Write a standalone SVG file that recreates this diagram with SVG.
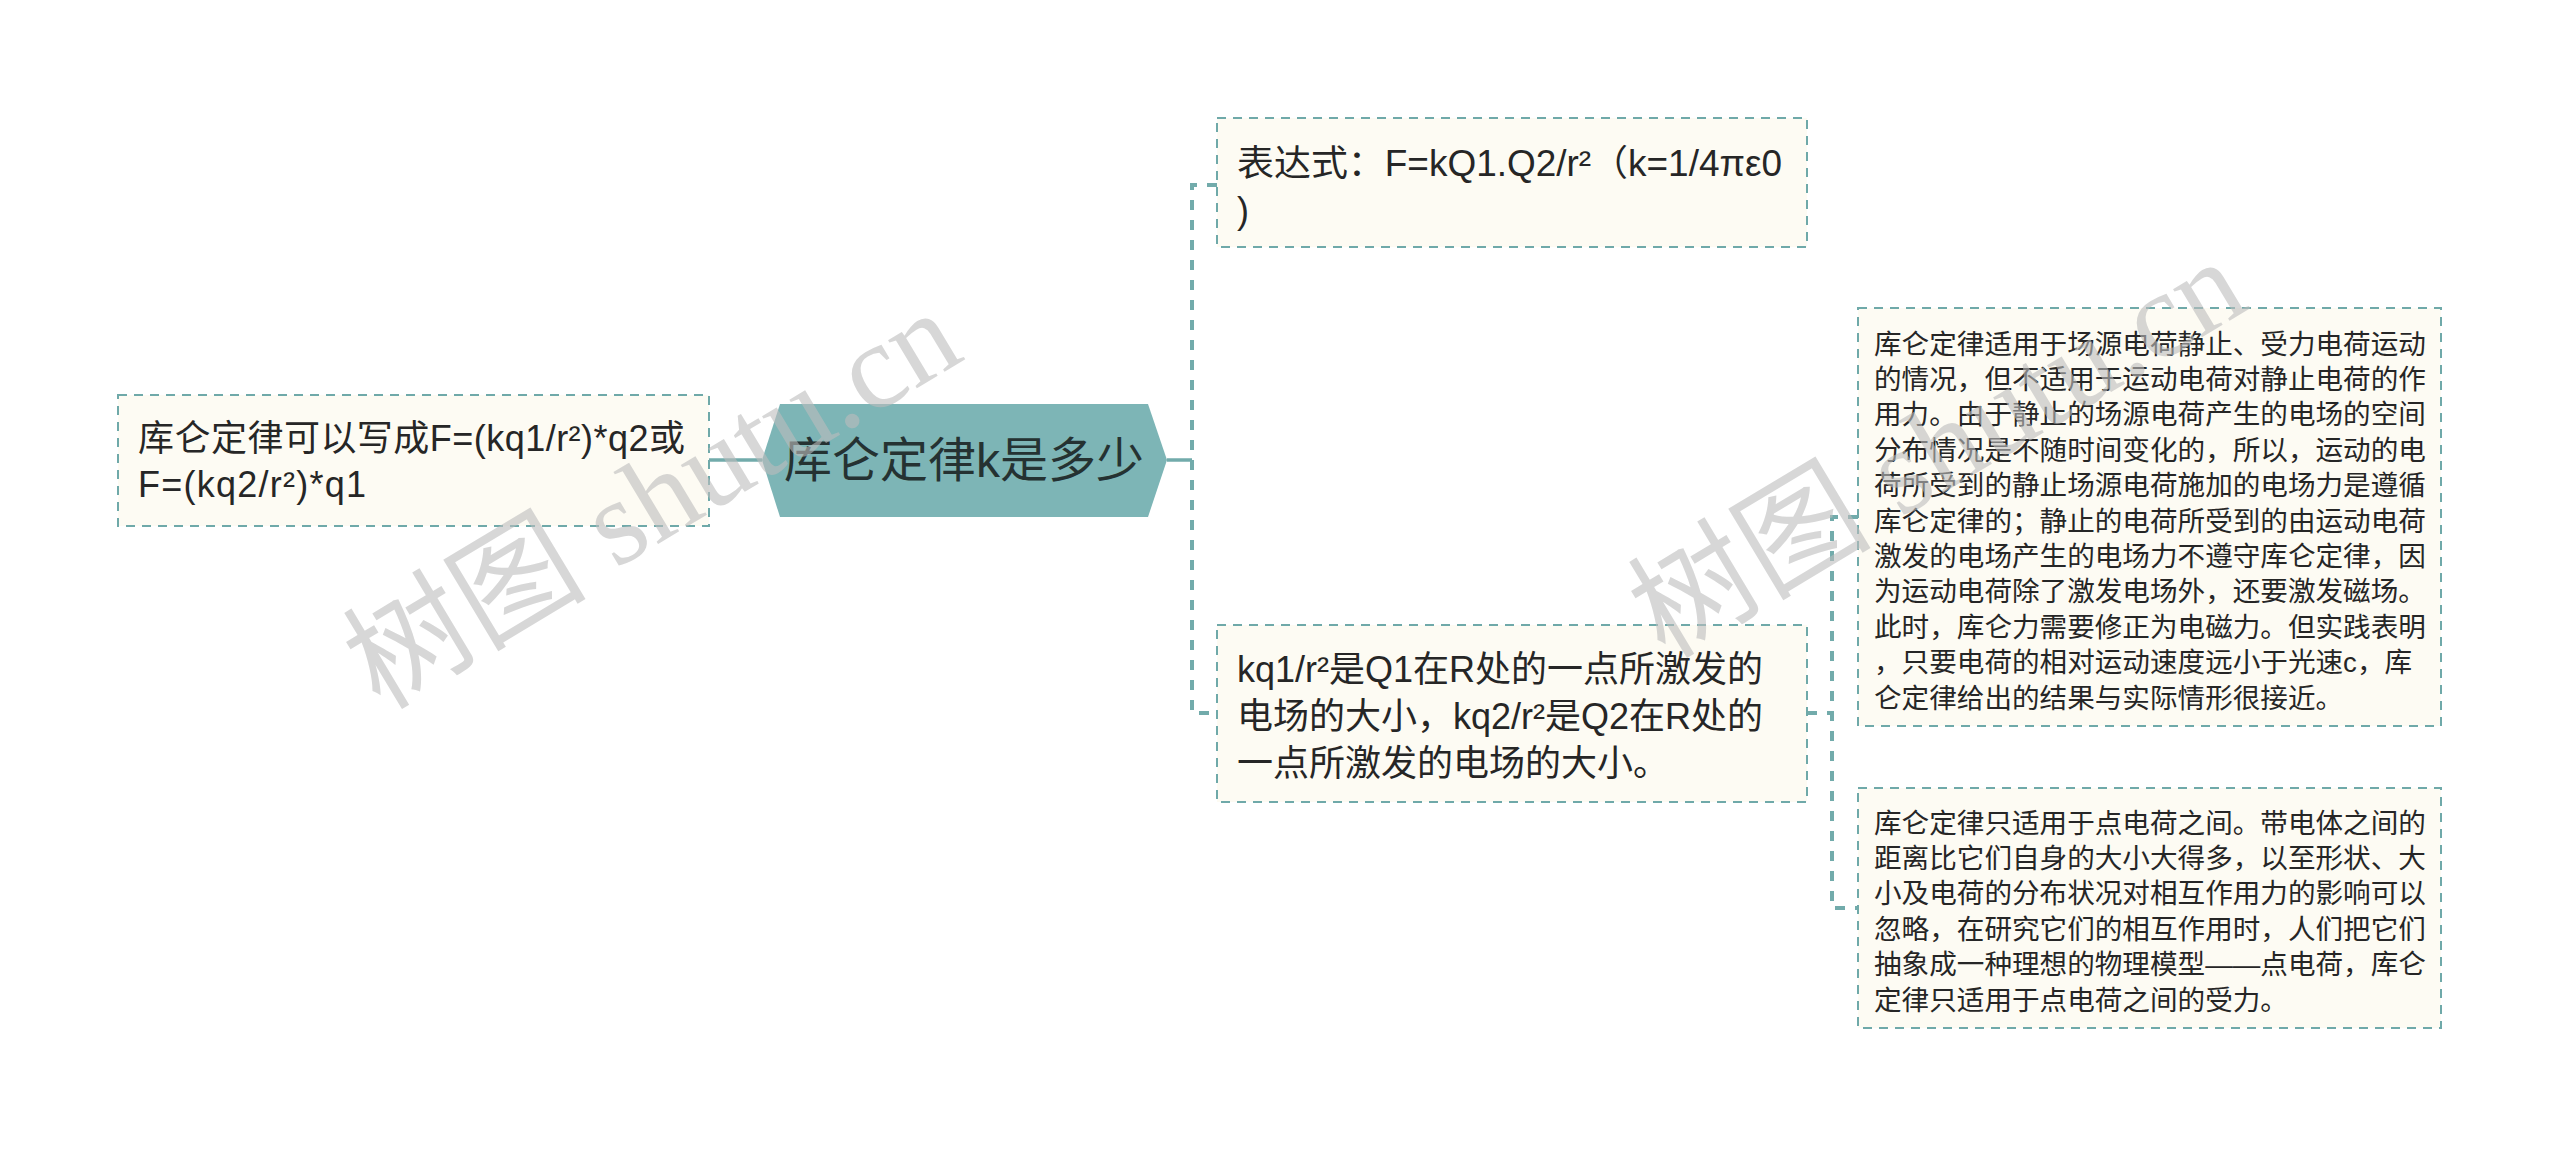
<svg xmlns="http://www.w3.org/2000/svg" width="2560" height="1149" viewBox="0 0 2560 1149">
<style>
.box{fill:#fdfbf3;stroke:#6fa9a9;stroke-width:2;stroke-dasharray:9 7}
.t{font-family:"Liberation Sans","Noto Sans CJK SC",sans-serif;font-size:36px;fill:#262626}
.s{font-family:"Liberation Sans","Noto Sans CJK SC",sans-serif;font-size:27.6px;fill:#262626}
.c{font-family:"Liberation Sans","Noto Sans CJK SC",sans-serif;font-size:48px;fill:#253232}
.solid{fill:none;stroke:#72abab;stroke-width:3.5}
.dash{fill:none;stroke:#72abab;stroke-width:4;stroke-dasharray:10 10}
.wm{font-family:"Liberation Serif","Noto Sans CJK SC",serif;font-size:122px;fill:#bdbdbd;opacity:0.6}
</style>
<rect width="2560" height="1149" fill="#ffffff"/>
<g id="connectors">
<path class="solid" d="M709,460 H762"/>
<path class="solid" d="M1167,460 H1192"/>
<path class="dash" d="M1217,185 H1192 V713 H1217"/>
<path class="dash" d="M1807,713 H1832"/>
<path class="dash" d="M1858,517 H1832 V908 H1858"/>
</g>
<g id="root">
<polygon points="762,460 780,404 1148,404 1167,460 1148,517 780,517" fill="#7db5b6"/>
<text class="c" x="964" y="477" text-anchor="middle">库仑定律k是多少</text>
</g>
<g id="left">
<rect class="box" x="118" y="395" width="591" height="131"/>
<text class="t" x="138" y="451" textLength="547" lengthAdjust="spacing">库仑定律可以写成F=(kq1/r²)*q2或</text>
<text class="t" x="138" y="497" textLength="228" lengthAdjust="spacing">F=(kq2/r²)*q1</text>
</g>
<g id="expr">
<rect class="box" x="1217" y="118" width="590" height="129"/>
<text class="t" x="1237" y="176" textLength="545" lengthAdjust="spacingAndGlyphs">表达式：F=kQ1.Q2/r²（k=1/4πε0</text>
<text class="t" x="1237" y="223">)</text>
</g>
<g id="field">
<rect class="box" x="1217" y="625" width="590" height="177"/>
<text class="t" x="1237" y="682">kq1/r²是Q1在R处的一点所激发的</text>
<text class="t" x="1237" y="729">电场的大小，kq2/r²是Q2在R处的</text>
<text class="t" x="1237" y="776">一点所激发的电场的大小。</text>
</g>
<g id="scope">
<rect class="box" x="1858" y="308" width="583" height="418"/>
<text class="s" x="1874" y="353.5">库仑定律适用于场源电荷静止、受力电荷运动</text>
<text class="s" x="1874" y="388.9">的情况，但不适用于运动电荷对静止电荷的作</text>
<text class="s" x="1874" y="424.3">用力。由于静止的场源电荷产生的电场的空间</text>
<text class="s" x="1874" y="459.7">分布情况是不随时间变化的，所以，运动的电</text>
<text class="s" x="1874" y="495.1">荷所受到的静止场源电荷施加的电场力是遵循</text>
<text class="s" x="1874" y="530.5">库仑定律的；静止的电荷所受到的由运动电荷</text>
<text class="s" x="1874" y="565.9">激发的电场产生的电场力不遵守库仑定律，因</text>
<text class="s" x="1874" y="601.3">为运动电荷除了激发电场外，还要激发磁场。</text>
<text class="s" x="1874" y="636.7">此时，库仑力需要修正为电磁力。但实践表明</text>
<text class="s" x="1874" y="672.1">，只要电荷的相对运动速度远小于光速c，库</text>
<text class="s" x="1874" y="707.5">仑定律给出的结果与实际情形很接近。</text>
</g>
<g id="point">
<rect class="box" x="1858" y="788" width="583" height="240"/>
<text class="s" x="1874" y="832.5">库仑定律只适用于点电荷之间。带电体之间的</text>
<text class="s" x="1874" y="867.9">距离比它们自身的大小大得多，以至形状、大</text>
<text class="s" x="1874" y="903.3">小及电荷的分布状况对相互作用力的影响可以</text>
<text class="s" x="1874" y="938.7">忽略，在研究它们的相互作用时，人们把它们</text>
<text class="s" x="1874" y="974.1">抽象成一种理想的物理模型——点电荷，库仑</text>
<text class="s" x="1874" y="1009.5">定律只适用于点电荷之间的受力。</text>
</g>
<g id="watermark">
<text class="wm" transform="translate(380,711) rotate(-31)">树图 shutu.cn</text>
<text class="wm" transform="translate(1665,660) rotate(-31)">树图 shutu.cn</text>
</g>
</svg>
